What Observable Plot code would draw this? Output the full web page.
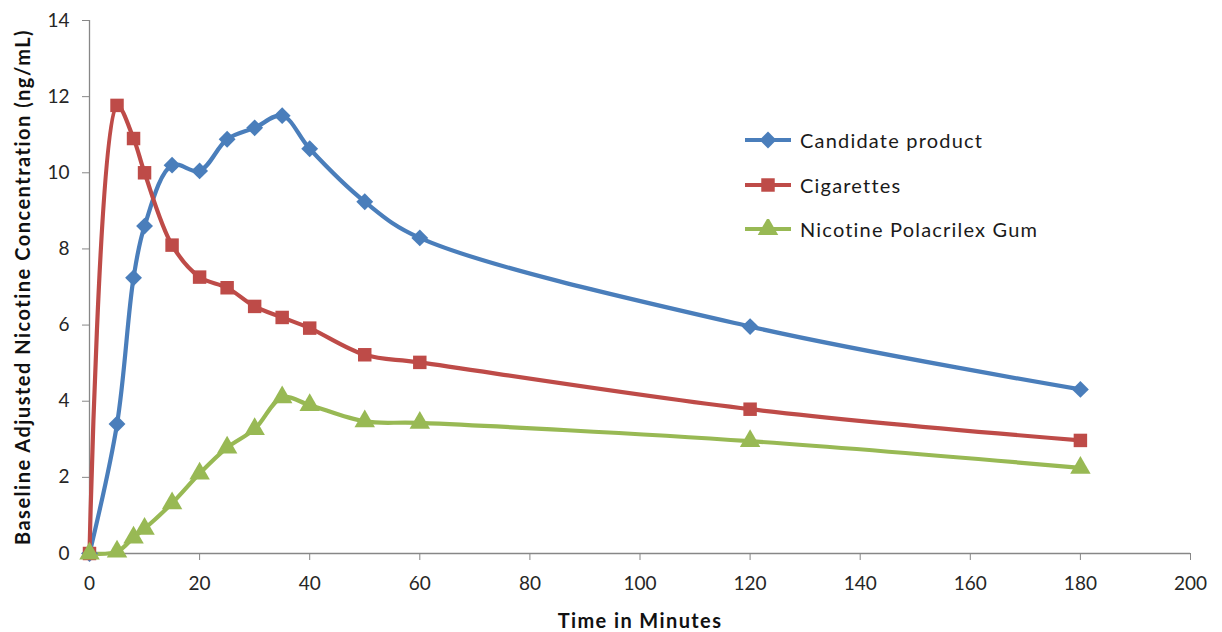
<!DOCTYPE html>
<html>
<head>
<meta charset="utf-8">
<script src="https://cdn.jsdelivr.net/npm/d3@7"></script>
<script src="https://cdn.jsdelivr.net/npm/@observablehq/plot@0.6"></script>
<style>
  html, body { margin: 0; padding: 0; background: #fff; }
  #wrap { position: relative; width: 1222px; height: 632px; font-family: Lato, "Open Sans", sans-serif; }
  #legend { position: absolute; left: 744px; top: 118px; }
  .row { display: flex; align-items: center; height: 44.5px; font-size: 20px; color: #1a1a1a; letter-spacing: 1.2px; }
  .row svg { margin-right: 8px; }
</style>
</head>
<body>
<div id="wrap"></div>
<script>
const times = [0, 5, 8, 10, 15, 20, 25, 30, 35, 40, 50, 60, 120, 180];
const candidate = [0, 3.4, 7.24, 8.6, 10.2, 10.05, 10.88, 11.18, 11.5, 10.63, 9.24, 8.29, 5.96, 4.31];
const cigarettes = [0, 11.77, 10.9, 10.0, 8.1, 7.26, 6.98, 6.49, 6.2, 5.92, 5.22, 5.02, 3.79, 2.97];
const gum = [0, 0.05, 0.42, 0.65, 1.32, 2.1, 2.78, 3.27, 4.1, 3.9, 3.47, 3.43, 2.95, 2.25];

const seriesNames = ["Candidate product", "Cigarettes", "Nicotine Polacrilex Gum"];
const seriesColors = ["#4A7EBB", "#BE4B48", "#98B954"];
const seriesSymbols = ["diamond2", "square", "triangle"];
const seriesValues = [candidate, cigarettes, gum];

const xTicks = d3.range(0, 201, 20);
const yTicks = d3.range(0, 15, 2);

const yTitle = "Baseline Adjusted Nicotine Concentration (ng/mL)";
const xTitle = "Time in Minutes";

const rows = [];
seriesNames.forEach((name, i) => {
  times.forEach((t, j) => rows.push({series: name, time: t, value: seriesValues[i][j]}));
});

const font = "Lato, 'Open Sans', sans-serif";

const plot = Plot.plot({
  width: 1222,
  height: 632,
  marginLeft: 89,
  marginRight: 32,
  marginTop: 20,
  marginBottom: 79,
  style: {fontFamily: font, fontSize: "19px", color: "#262626", background: "#fff"},
  x: {domain: [0, 200], ticks: xTicks, label: null},
  y: {domain: [0, 14], ticks: yTicks, label: null},
  color: {domain: seriesNames, range: seriesColors},
  symbol: {domain: seriesNames, range: seriesSymbols},
  marks: [
    Plot.ruleY([0], {stroke: "#878787", strokeWidth: 1.3}),
    Plot.ruleX([0], {stroke: "#878787", strokeWidth: 1.3}),
    Plot.axisX({ticks: xTicks, tickSize: 7, tickPadding: 16, stroke: "#878787", fontSize: 19, fill: "#262626"}),
    Plot.axisY({ticks: yTicks, tickSize: 7, tickPadding: 13, stroke: "#878787", fontSize: 19, fill: "#262626"}),
    Plot.text([yTitle], {frameAnchor: "left", textAnchor: "middle", rotate: -90, dx: -66, dy: 0, fontWeight: "bold", fontSize: 20, fill: "#111"}),
    Plot.text([xTitle], {frameAnchor: "bottom", dy: 74, fontWeight: "bold", fontSize: 20, fill: "#111"}),
    Plot.line(rows, {x: "time", y: "value", z: "series", stroke: "series", strokeWidth: 4.2, curve: "catmull-rom"}),
    Plot.dot(rows, {x: "time", y: "value", fill: "series", symbol: "series", r: 7.6, stroke: "none"})
  ]
});

// widen title tracking to match the reference
d3.select(plot).selectAll("text").each(function () {
  const t = this.textContent;
  if (t === yTitle) d3.select(this).style("letter-spacing", "1.5px");
  if (t === xTitle) d3.select(this).style("letter-spacing", "1.4px");
});

const wrap = document.getElementById("wrap");
wrap.appendChild(plot);

// legend overlay
const legend = document.createElement("div");
legend.id = "legend";
const symGen = {diamond2: d3.symbolDiamond2, square: d3.symbolSquare, triangle: d3.symbolTriangle};
seriesNames.forEach((name, i) => {
  const row = document.createElement("div");
  row.className = "row";
  const svg = d3.create("svg").attr("width", 48).attr("height", 20);
  svg.append("line").attr("x1", 1).attr("x2", 47).attr("y1", 10).attr("y2", 10)
    .attr("stroke", seriesColors[i]).attr("stroke-width", 4.2);
  svg.append("path").attr("transform", "translate(24,10)")
    .attr("d", d3.symbol(symGen[seriesSymbols[i]], Math.PI * 7.6 * 7.6)())
    .attr("fill", seriesColors[i]);
  row.appendChild(svg.node());
  const span = document.createElement("span");
  span.textContent = name;
  row.appendChild(span);
  legend.appendChild(row);
});
wrap.appendChild(legend);
</script>
</body>
</html>
